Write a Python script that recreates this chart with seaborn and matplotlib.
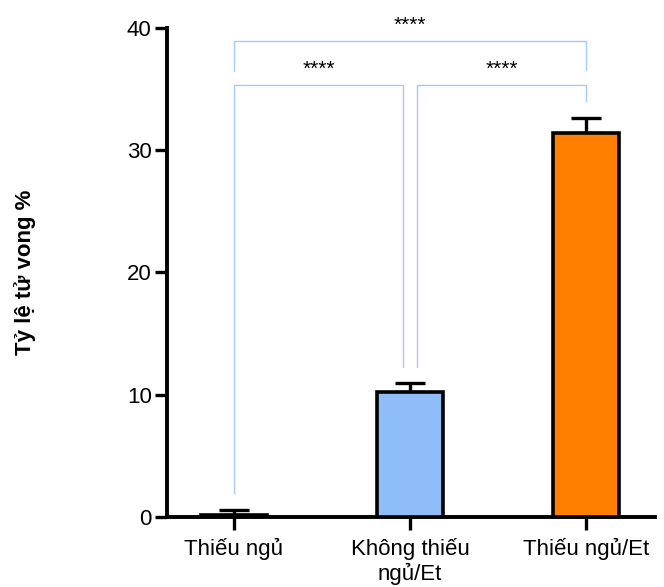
import matplotlib

matplotlib.use("Agg")
import matplotlib.pyplot as plt
import seaborn as sns
import pandas as pd

# data
groups = ["Thiếu ngủ", "Không thiếu\nngủ/Et", "Thiếu ngủ/Et"]
means = [0.2, 10.2, 31.4]
errs = [0.35, 0.8, 1.2]
colors = ["#ffffff", "#8fbdf7", "#ff7f00"]

# comparisons: (i, j, bracket height, left leg end, right leg end, label)
pairs = [(0, 1, 35.3, 2.0, 12.3, "****"),
         (1, 2, 35.3, 12.3, 34.0, "****"),
         (0, 2, 38.9, 36.5, 36.6, "****")]

sns.set_style("ticks")
plt.rcParams["font.family"] = ["Liberation Sans", "DejaVu Sans"]
plt.rcParams.update({"text.color": "black", "axes.labelcolor": "black",
                     "xtick.color": "black", "ytick.color": "black"})

df = pd.DataFrame({"group": groups, "value": means})

fig = plt.figure(figsize=(6.64, 5.87), dpi=100)
ax = fig.add_axes([0.2515, 0.1193, 0.735, 0.833])

sns.barplot(data=df, x="group", y="value", hue="group", palette=colors,
            saturation=1, width=0.375, edgecolor="black", linewidth=2.6,
            legend=False, errorbar=None, ax=ax, zorder=3)

ax.errorbar(range(len(means)), means, yerr=[[0] * len(errs), errs],
            fmt="none", ecolor="black", elinewidth=2.4, capsize=11,
            capthick=2.4, zorder=2)

bracket_col = "#a6cbf6"
for i, j, h, l1, l2, lab in pairs:
    off_l = 0.04 if i == 1 else 0
    off_r = -0.04 if j == 1 else 0
    xl, xr = i + off_l, j + off_r
    ax.plot([xl, xl, xr, xr], [l1, h, h, l2], color=bracket_col, lw=1.0,
            clip_on=False, zorder=1)
    ax.text((xl + xr) / 2, h + 1.3, lab, ha="center", va="center",
            fontsize=15, clip_on=False)

ax.set_xlim(-0.38, 2.39)
ax.set_ylim(0, 40)
ax.set_yticks([0, 10, 20, 30, 40])
ax.set_xlabel("")
ax.set_ylabel("Tỷ lệ tử vong %", fontsize=16, fontweight="bold")
ax.yaxis.set_label_coords(-0.268, 0.5)
ax.tick_params(axis="both", labelsize=16, width=2.4, length=9, color="black")
ax.tick_params(axis="y", pad=2)
ax.tick_params(axis="x", pad=6)
for s in ["left", "bottom"]:
    ax.spines[s].set_linewidth(2.8)
    ax.spines[s].set_color("black")
sns.despine(ax=ax)

fig.savefig("out.png", dpi=100)
